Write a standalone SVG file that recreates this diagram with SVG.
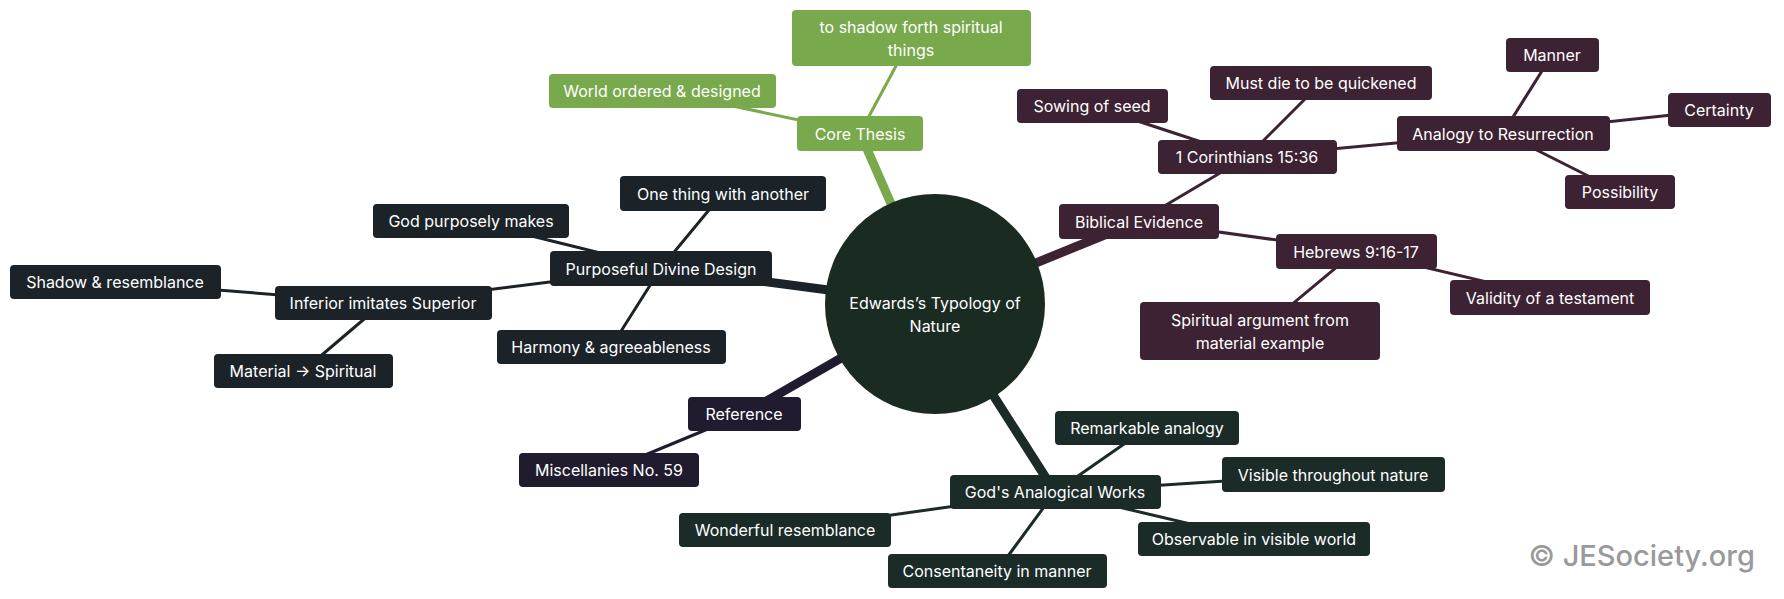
<svg xmlns="http://www.w3.org/2000/svg" width="1784" height="599" viewBox="0 0 1784 599">
<style>
text{font-family:Inter,"Liberation Sans",sans-serif;font-size:16px;fill:#fff;text-anchor:middle;dominant-baseline:central}
.g rect{fill:#78a94d}.m rect{fill:#3d2234}.n rect{fill:#1b2329}.r rect{fill:#201b2e}.a rect{fill:#1b2b28}
.e line{stroke-linecap:round}
.gl{stroke:#78a94d}.ml{stroke:#3d2234}.nl{stroke:#1b2329}.rl{stroke:#201b2e}.al{stroke:#1b2b28}
.t{stroke-width:9}.s{stroke-width:3}
</style>
<rect width="1784" height="599" fill="#fff"/>
<g id="connectors" class="e">
<line class="gl t" x1="935" y1="304" x2="860" y2="133"/>
<line class="gl s" x1="860" y1="133" x2="911" y2="38"/>
<line class="gl s" x1="860" y1="133" x2="662" y2="91"/>
<line class="ml t" x1="935" y1="304" x2="1139" y2="221"/>
<line class="ml s" x1="1139" y1="221" x2="1247" y2="157"/>
<line class="ml s" x1="1247" y1="157" x2="1092" y2="106"/>
<line class="ml s" x1="1247" y1="157" x2="1321" y2="83"/>
<line class="ml s" x1="1247" y1="157" x2="1503" y2="133"/>
<line class="ml s" x1="1503" y1="133" x2="1552" y2="55"/>
<line class="ml s" x1="1503" y1="133" x2="1719" y2="110"/>
<line class="ml s" x1="1503" y1="133" x2="1620" y2="192"/>
<line class="ml s" x1="1139" y1="221" x2="1356" y2="251"/>
<line class="ml s" x1="1356" y1="251" x2="1550" y2="297"/>
<line class="ml s" x1="1356" y1="251" x2="1260" y2="331"/>
<line class="nl t" x1="935" y1="304" x2="661" y2="268"/>
<line class="nl s" x1="661" y1="268" x2="471" y2="221"/>
<line class="nl s" x1="661" y1="268" x2="723" y2="193"/>
<line class="nl s" x1="661" y1="268" x2="611" y2="347"/>
<line class="nl s" x1="661" y1="268" x2="383" y2="303"/>
<line class="nl s" x1="383" y1="303" x2="115" y2="282"/>
<line class="nl s" x1="383" y1="303" x2="303" y2="371"/>
<line class="rl t" x1="935" y1="304" x2="744" y2="414"/>
<line class="rl s" x1="744" y1="414" x2="609" y2="470"/>
<line class="al t" x1="935" y1="304" x2="1055" y2="492"/>
<line class="al s" x1="1055" y1="492" x2="1147" y2="428"/>
<line class="al s" x1="1055" y1="492" x2="1333" y2="474"/>
<line class="al s" x1="1055" y1="492" x2="1254" y2="539"/>
<line class="al s" x1="1055" y1="492" x2="997" y2="571"/>
<line class="al s" x1="1055" y1="492" x2="785" y2="530"/>
</g>
<g id="center"><circle cx="935" cy="304" r="110" fill="#1a2b22"/><text x="935" y="303">Edwards’s Typology of</text><text x="935" y="326">Nature</text></g>
<g id="core" class="g"><rect x="797" y="116" width="126" height="35" rx="4"/><text x="860" y="133.5">Core Thesis</text></g>
<g id="shadow" class="g"><rect x="792" y="10" width="239" height="56" rx="4"/><text x="911" y="27">to shadow forth spiritual</text><text x="911" y="50">things</text></g>
<g id="world" class="g"><rect x="549" y="74" width="227" height="34" rx="4"/><text x="662" y="91">World ordered &amp; designed</text></g>
<g id="biblical" class="m"><rect x="1059" y="204" width="160" height="35" rx="4"/><text x="1139" y="221.5">Biblical Evidence</text></g>
<g id="cor" class="m"><rect x="1158" y="140" width="179" height="34" rx="4"/><text x="1247" y="157">1 Corinthians 15:36</text></g>
<g id="sowing" class="m"><rect x="1017" y="89" width="151" height="34" rx="4"/><text x="1092" y="106">Sowing of seed</text></g>
<g id="mustdie" class="m"><rect x="1210" y="66" width="222" height="34" rx="4"/><text x="1321" y="83">Must die to be quickened</text></g>
<g id="analogy" class="m"><rect x="1397" y="116" width="213" height="35" rx="4"/><text x="1503" y="133.5">Analogy to Resurrection</text></g>
<g id="manner" class="m"><rect x="1506" y="38" width="93" height="34" rx="4"/><text x="1552" y="55">Manner</text></g>
<g id="certainty" class="m"><rect x="1668" y="93" width="103" height="34" rx="4"/><text x="1719" y="110">Certainty</text></g>
<g id="possibility" class="m"><rect x="1565" y="175" width="110" height="34" rx="4"/><text x="1620" y="192">Possibility</text></g>
<g id="hebrews" class="m"><rect x="1276" y="234" width="161" height="35" rx="4"/><text x="1356" y="251.5">Hebrews 9:16-17</text></g>
<g id="validity" class="m"><rect x="1450" y="280" width="200" height="35" rx="4"/><text x="1550" y="297.5">Validity of a testament</text></g>
<g id="spiritual" class="m"><rect x="1140" y="302" width="240" height="58" rx="4"/><text x="1260" y="320">Spiritual argument from</text><text x="1260" y="343">material example</text></g>
<g id="design" class="n"><rect x="550" y="251" width="222" height="35" rx="4"/><text x="661" y="268.5">Purposeful Divine Design</text></g>
<g id="purposely" class="n"><rect x="373" y="204" width="196" height="34" rx="4"/><text x="471" y="221">God purposely makes</text></g>
<g id="onething" class="n"><rect x="620" y="176" width="206" height="35" rx="4"/><text x="723" y="193.5">One thing with another</text></g>
<g id="harmony" class="n"><rect x="497" y="330" width="229" height="34" rx="4"/><text x="611" y="347">Harmony &amp; agreeableness</text></g>
<g id="inferior" class="n"><rect x="275" y="286" width="217" height="34" rx="4"/><text x="383" y="303">Inferior imitates Superior</text></g>
<g id="shadowres" class="n"><rect x="10" y="265" width="211" height="34" rx="4"/><text x="115" y="282">Shadow &amp; resemblance</text></g>
<g id="material" class="n"><rect x="214" y="354" width="179" height="34" rx="4"/><text x="303" y="371">Material → Spiritual</text></g>
<g id="reference" class="r"><rect x="688" y="397" width="113" height="34" rx="4"/><text x="744" y="414">Reference</text></g>
<g id="misc" class="r"><rect x="519" y="453" width="180" height="34" rx="4"/><text x="609" y="470">Miscellanies No. 59</text></g>
<g id="works" class="a"><rect x="950" y="475" width="211" height="34" rx="4"/><text x="1055" y="492">God's Analogical Works</text></g>
<g id="remarkable" class="a"><rect x="1055" y="411" width="184" height="34" rx="4"/><text x="1147" y="428">Remarkable analogy</text></g>
<g id="visible" class="a"><rect x="1222" y="457" width="223" height="35" rx="4"/><text x="1333" y="474.5">Visible throughout nature</text></g>
<g id="observable" class="a"><rect x="1138" y="522" width="232" height="34" rx="4"/><text x="1254" y="539">Observable in visible world</text></g>
<g id="consent" class="a"><rect x="888" y="554" width="219" height="34" rx="4"/><text x="997" y="571">Consentaneity in manner</text></g>
<g id="wonderful" class="a"><rect x="679" y="513" width="212" height="34" rx="4"/><text x="785" y="530">Wonderful resemblance</text></g>
<text x="1755" y="555" style="text-anchor:end;font-size:29px;fill:#9a9a9a;font-weight:500">© JESociety.org</text>
</svg>
